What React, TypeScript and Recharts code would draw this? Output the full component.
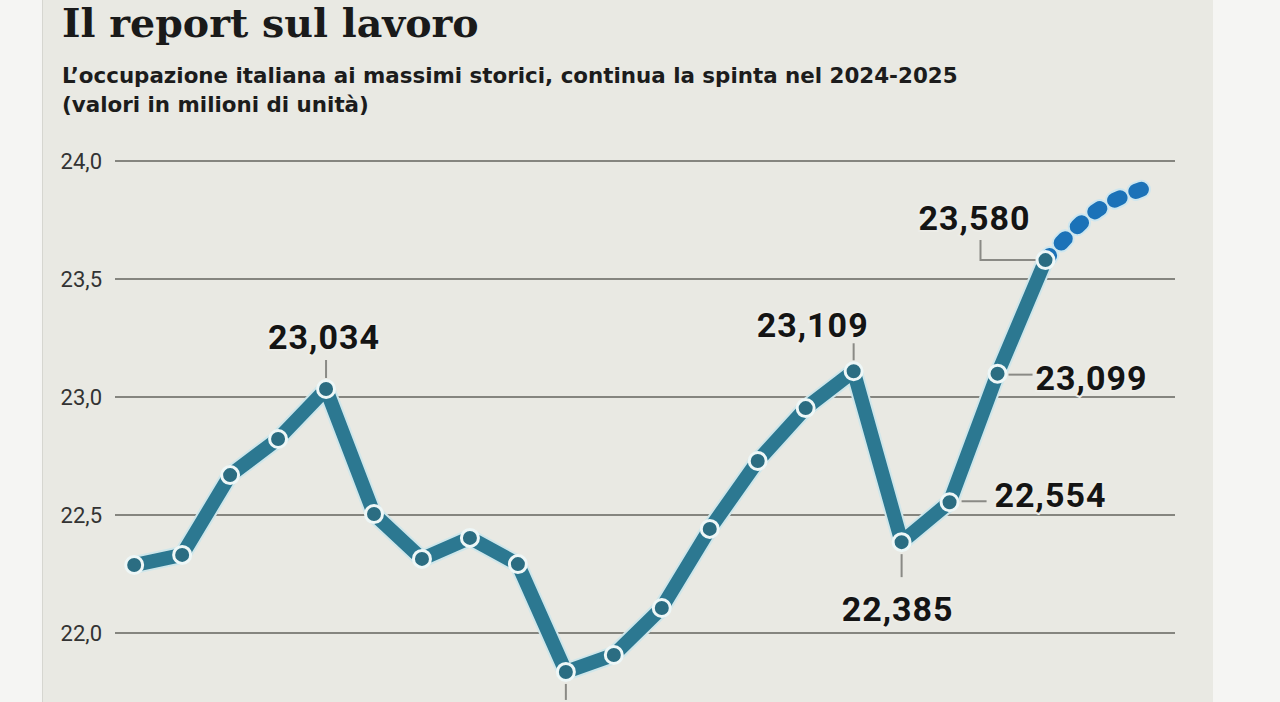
import React from 'react';
import { LineChart, Line, XAxis, YAxis, CartesianGrid } from 'recharts';

// occupati in Italia, milioni di unità
const occupati = [
  22.288, 22.331, 22.669, 22.822, 23.034, 22.504, 22.314, 22.403, 22.292, 21.835,
  21.907, 22.106, 22.441, 22.729, 22.953, 23.109, 22.385, 22.554, 23.099, 23.58,
];
// proiezione 2024-2025, parte dall'ultimo valore osservato
const previsione = [23.58, 23.78, 23.88];
const yTicks = [22, 22.5, 23, 23.5, 24];
// punti con il valore in evidenza
const evidenziati = [4, 9, 15, 16, 17, 18, 19];

const start = occupati.length - 1;
const data = Array.from({ length: start + previsione.length }, (_, i) => ({
  i,
  occ: i <= start ? occupati[i] : null,
  prev: i >= start ? previsione[i - start] : null,
}));

const fmt = (v: number) => v.toFixed(3).replace('.', ',');

const numStyle = {
  fontFamily: 'Roboto',
  fontWeight: 700,
  fontSize: 34,
  fill: '#141414',
  stroke: '#ecece7',
  strokeWidth: 4,
  paintOrder: 'stroke' as const,
  letterSpacing: 1,
};
const lead = { stroke: '#8a8a85', strokeWidth: 2, fill: 'none' };

function renderCallout(props: any) {
  const { x, y, index, value } = props;
  if (!evidenziati.includes(index) || value == null) return null;
  const txt = fmt(value);
  switch (index) {
    case 4:
      return (
        <g key={index}>
          <line x1={x} y1={y - 29} x2={x} y2={y - 11} {...lead} />
          <text x={x - 2} y={y - 40} textAnchor="middle" {...numStyle}>{txt}</text>
        </g>
      );
    case 9:
      // etichetta fuori dal ritaglio, resta solo il richiamo
      return (
        <g key={index}>
          <line x1={x} y1={y + 12} x2={x} y2={y + 28} {...lead} />
        </g>
      );
    case 15:
      return (
        <g key={index}>
          <line x1={x} y1={y - 28} x2={x} y2={y - 11} {...lead} />
          <text x={x + 15} y={y - 34} textAnchor="end" {...numStyle}>{txt}</text>
        </g>
      );
    case 16:
      return (
        <g key={index}>
          <line x1={x} y1={y + 12} x2={x} y2={y + 35} {...lead} />
          <text x={x - 4} y={y + 79} textAnchor="middle" {...numStyle}>{txt}</text>
        </g>
      );
    case 17:
      return (
        <g key={index}>
          <line x1={x + 12} y1={y - 1} x2={x + 37} y2={y - 1} {...lead} />
          <text x={x + 45} y={y + 5} textAnchor="start" {...numStyle}>{txt}</text>
        </g>
      );
    case 18:
      return (
        <g key={index}>
          <line x1={x + 11} y1={y + 1} x2={x + 35} y2={y + 1} {...lead} />
          <text x={x + 38} y={y + 16} textAnchor="start" {...numStyle}>{txt}</text>
        </g>
      );
    case 19:
      return (
        <g key={index}>
          <path d={`M ${x - 10} ${y} H ${x - 65} V ${y - 20}`} {...lead} />
          <text x={x - 15} y={y - 30} textAnchor="end" {...numStyle}>{txt}</text>
        </g>
      );
    default:
      return null;
  }
}

export default function App() {
  return (
    <div
      style={{
        position: 'absolute',
        left: 0,
        top: 0,
        width: 1280,
        height: 702,
        overflow: 'hidden',
        background: '#f5f5f3',
      }}
    >
      <div
        style={{
          position: 'absolute',
          left: 42,
          top: 0,
          width: 1170,
          height: 702,
          background: '#e9e9e3',
          borderLeft: '1px solid #d6d6d0',
        }}
      />
      <svg width={1280} height={130} style={{ position: 'absolute', left: 0, top: 0 }}>
        <text x={62} y={37} fontFamily="DejaVu Serif" fontWeight={700} fontSize={39.5} fill="#1a1a1a">
          Il report sul lavoro
        </text>
        <text x={62} y={83} fontFamily="DejaVu Sans" fontWeight={700} fontSize={21.4} fill="#1c1c1c">
          L’occupazione italiana ai massimi storici, continua la spinta nel 2024-2025
        </text>
        <text x={62} y={112} fontFamily="DejaVu Sans" fontWeight={700} fontSize={21.4} fill="#1c1c1c">
          (valori in milioni di unità)
        </text>
      </svg>
      <div style={{ position: 'absolute', left: 0, top: 0 }}>
        <LineChart
          width={1280}
          height={760}
          data={data}
          margin={{ top: 161, right: 105, bottom: 9, left: 55 }}
        >
          <CartesianGrid vertical={false} stroke="#85857f" strokeWidth={2} />
          <XAxis dataKey="i" type="number" domain={[-0.4, 21.7]} hide />
          <YAxis
            domain={[21.5, 24]}
            ticks={yTicks}
            width={60}
            axisLine={false}
            tickLine={false}
            tickSize={0}
            tickMargin={13}
            tickFormatter={(v: number) => v.toFixed(1).replace('.', ',')}
            tick={{ fontFamily: 'Roboto', fontSize: 22, fill: '#333333' }}
          />
          {/* alone chiaro sotto le linee */}
          <Line
            dataKey="prev"
            type="monotone"
            stroke="#cde6ef"
            strokeWidth={19}
            strokeDasharray="6 17"
            strokeLinecap="round"
            dot={false}
            isAnimationActive={false}
          />
          <Line
            dataKey="occ"
            type="linear"
            stroke="#cfe6ea"
            strokeWidth={18}
            strokeLinejoin="round"
            strokeLinecap="round"
            dot={false}
            isAnimationActive={false}
          />
          <Line
            dataKey="prev"
            type="monotone"
            stroke="#1b72b8"
            strokeWidth={15}
            strokeDasharray="6 17"
            strokeLinecap="round"
            dot={false}
            isAnimationActive={false}
          />
          <Line
            dataKey="occ"
            type="linear"
            stroke="#2c7891"
            strokeWidth={14}
            strokeLinejoin="round"
            strokeLinecap="round"
            dot={{ r: 8.5, fill: '#2b6d82', stroke: '#eef7f7', strokeWidth: 3 }}
            label={renderCallout}
            isAnimationActive={false}
          />
        </LineChart>
      </div>
    </div>
  );
}
